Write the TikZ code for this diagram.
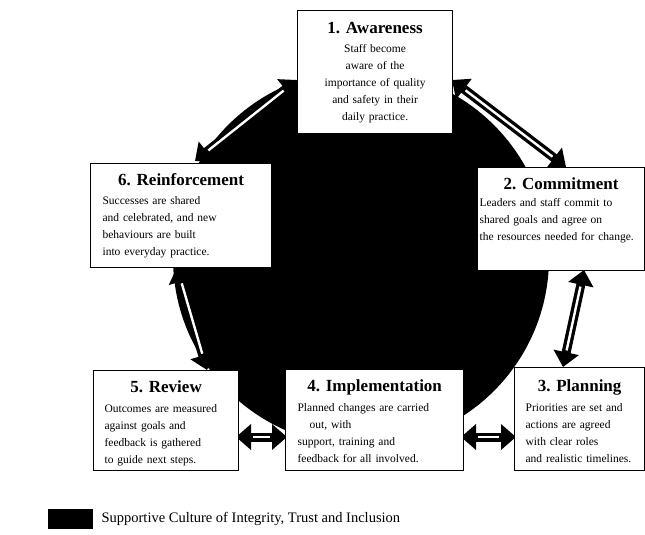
\documentclass[tikz,border=0pt]{standalone}
\usepackage{fontspec}
\setmainfont{Liberation Serif}
\usetikzlibrary{arrows.meta,calc}
\tikzset{
  box/.style={draw, line width=1.2pt, fill=white, inner sep=0pt, anchor=north west},
  txt/.style={anchor=north, inner sep=0pt, font=\fontsize{11.5}{17}\selectfont},
  blk/.style={line width=9pt, {Triangle[width=25pt,length=15pt]}-{Triangle[width=25pt,length=15pt]}},
  stripe/.style={white, line width=2.4pt, shorten <=17pt, shorten >=17pt}
}
\newcommand{\boxtitle}[1]{\centerline{\fontsize{17}{20}\selectfont\bfseries #1}\par\vspace{2.5pt}}
\begin{document}
\begin{tikzpicture}[x=1pt,y=-1pt]
\useasboundingbox (0,0) rectangle (645,535);
% supportive culture
\fill[black] (361,258) circle[radius=188pt];
% arrow end points
\coordinate (a61s) at (195,161);
\coordinate (a61e) at (297,80);
\coordinate (a12s) at (452,80);
\coordinate (a12e) at (566,167);
\coordinate (a23s) at (584,270);
\coordinate (a23e) at (563,367);
\coordinate (a34s) at (461,437);
\coordinate (a34e) at (516,437);
\coordinate (a45s) at (287,437);
\coordinate (a45e) at (236,437);
\coordinate (a56s) at (207,370);
\coordinate (a56e) at (177,267);
\foreach \s/\e in {a61s/a61e,a12s/a12e,a23s/a23e,a34s/a34e,a45s/a45e,a56s/a56e}{
  \draw[blk] (\s) -- (\e);
  \draw[stripe] (\s) -- (\e);
}
% boxes
\node[box, minimum width=155pt, minimum height=123pt] (b1) at (297,10) {};
\node[box, minimum width=181pt, minimum height=104pt] (b6) at (90,163) {};
\node[box, minimum width=167pt, minimum height=103pt] (b2) at (477,167) {};
\node[box, minimum width=145pt, minimum height=100pt] (b5) at (93,370) {};
\node[box, minimum width=178pt, minimum height=101pt] (b4) at (285,369) {};
\node[box, minimum width=130pt, minimum height=103pt] (b3) at (514,367) {};
% texts
\node[txt, text width=150pt] (t1) at ($(b1.north)+(0,12)$)
  {\boxtitle{1. Awareness}\centering Staff become\\aware of the\\importance of quality\\and safety in their\\daily practice.\par};
\node[txt, text width=157pt] (t6) at ($(b6.north)+(0,10)$)
  {\boxtitle{6. Reinforcement}\raggedright Successes are shared\\and celebrated, and new\\behaviours are built\\into everyday practice.\par};
\node[txt, text width=163pt] (t2) at ($(b2.north)+(0,11)$)
  {\boxtitle{2. Commitment}\vspace{-3pt}\raggedright Leaders and staff commit to\\shared goals and agree on\\the resources needed for change.\par};
\node[txt, text width=123pt] (t5) at ($(b5.north)+(0,11)$)
  {\boxtitle{5. Review}\raggedright Outcomes are measured\\against goals and\\feedback is gathered\\to guide next steps.\par};
\node[txt, text width=154pt] (t4) at ($(b4.north)+(0,11)$)
  {\boxtitle{4. Implementation}\raggedright Planned changes are carried\\\hspace*{12pt}out, with\\support, training and\\feedback for all involved.\par};
\node[txt, text width=108pt] (t3) at ($(b3.north)+(0,13)$)
  {\boxtitle{3. Planning}\raggedright Priorities are set and\\actions are agreed\\with clear roles\\and realistic timelines.\par};
% legend
\node[fill=black, minimum width=45pt, minimum height=20pt, inner sep=0pt, anchor=north west] (lg) at (48,509) {};
\node[anchor=west, inner sep=0pt, font=\fontsize{14.5}{16}\selectfont] (lgt) at ($(lg.east)+(8,0)$) {Supportive Culture of Integrity, Trust and Inclusion};
\end{tikzpicture}
\end{document}
